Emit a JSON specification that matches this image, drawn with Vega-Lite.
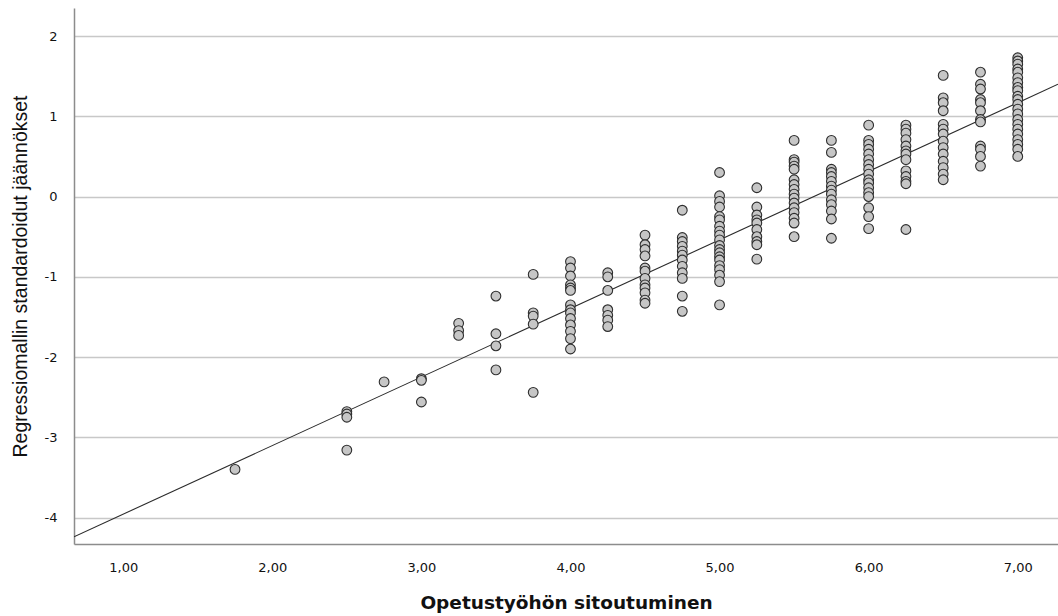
{
  "$schema": "https://vega.github.io/schema/vega-lite/v6.json",
  "width": 984,
  "height": 536,
  "autosize": {"type": "none"},
  "padding": {"left": 74, "top": 8, "right": 0, "bottom": 72},
  "background": "white",
  "config": {
    "view": {"stroke": null},
    "font": "Liberation Sans",
    "axis": {"labelFont": "Liberation Sans", "titleFont": "Liberation Sans"}
  },
  "datasets": {
    "pts": [
      {"x": 1.75, "y": -3.40},
      {"x": 2.5, "y": -2.68}, {"x": 2.5, "y": -2.71}, {"x": 2.5, "y": -2.75}, {"x": 2.5, "y": -3.16},
      {"x": 2.75, "y": -2.31},
      {"x": 3.0, "y": -2.27}, {"x": 3.0, "y": -2.29}, {"x": 3.0, "y": -2.56},
      {"x": 3.25, "y": -1.58}, {"x": 3.25, "y": -1.67}, {"x": 3.25, "y": -1.73},
      {"x": 3.5, "y": -1.24}, {"x": 3.5, "y": -1.71}, {"x": 3.5, "y": -1.86}, {"x": 3.5, "y": -2.16},
      {"x": 3.75, "y": -0.97}, {"x": 3.75, "y": -1.45}, {"x": 3.75, "y": -1.49}, {"x": 3.75, "y": -1.59}, {"x": 3.75, "y": -2.44},
      {"x": 4.0, "y": -0.81}, {"x": 4.0, "y": -0.89}, {"x": 4.0, "y": -0.99}, {"x": 4.0, "y": -1.10}, {"x": 4.0, "y": -1.14}, {"x": 4.0, "y": -1.17}, {"x": 4.0, "y": -1.35}, {"x": 4.0, "y": -1.41}, {"x": 4.0, "y": -1.45}, {"x": 4.0, "y": -1.52}, {"x": 4.0, "y": -1.60}, {"x": 4.0, "y": -1.68}, {"x": 4.0, "y": -1.77}, {"x": 4.0, "y": -1.90},
      {"x": 4.25, "y": -0.95}, {"x": 4.25, "y": -1.00}, {"x": 4.25, "y": -1.17}, {"x": 4.25, "y": -1.41}, {"x": 4.25, "y": -1.48}, {"x": 4.25, "y": -1.54}, {"x": 4.25, "y": -1.62},
      {"x": 4.5, "y": -0.48}, {"x": 4.5, "y": -0.60}, {"x": 4.5, "y": -0.66}, {"x": 4.5, "y": -0.74}, {"x": 4.5, "y": -0.89}, {"x": 4.5, "y": -0.93}, {"x": 4.5, "y": -1.02}, {"x": 4.5, "y": -1.10}, {"x": 4.5, "y": -1.14}, {"x": 4.5, "y": -1.20}, {"x": 4.5, "y": -1.29}, {"x": 4.5, "y": -1.33},
      {"x": 4.75, "y": -0.17}, {"x": 4.75, "y": -0.51}, {"x": 4.75, "y": -0.56}, {"x": 4.75, "y": -0.62}, {"x": 4.75, "y": -0.68}, {"x": 4.75, "y": -0.73}, {"x": 4.75, "y": -0.79}, {"x": 4.75, "y": -0.87}, {"x": 4.75, "y": -0.95}, {"x": 4.75, "y": -1.02}, {"x": 4.75, "y": -1.24}, {"x": 4.75, "y": -1.43},
      {"x": 5.0, "y": 0.30}, {"x": 5.0, "y": 0.01}, {"x": 5.0, "y": -0.06}, {"x": 5.0, "y": -0.13}, {"x": 5.0, "y": -0.25}, {"x": 5.0, "y": -0.29}, {"x": 5.0, "y": -0.37}, {"x": 5.0, "y": -0.43}, {"x": 5.0, "y": -0.48}, {"x": 5.0, "y": -0.54}, {"x": 5.0, "y": -0.61}, {"x": 5.0, "y": -0.66}, {"x": 5.0, "y": -0.70}, {"x": 5.0, "y": -0.75}, {"x": 5.0, "y": -0.79}, {"x": 5.0, "y": -0.86}, {"x": 5.0, "y": -0.91}, {"x": 5.0, "y": -0.98}, {"x": 5.0, "y": -1.06}, {"x": 5.0, "y": -1.35},
      {"x": 5.25, "y": 0.11}, {"x": 5.25, "y": -0.13}, {"x": 5.25, "y": -0.23}, {"x": 5.25, "y": -0.29}, {"x": 5.25, "y": -0.33}, {"x": 5.25, "y": -0.41}, {"x": 5.25, "y": -0.50}, {"x": 5.25, "y": -0.56}, {"x": 5.25, "y": -0.60}, {"x": 5.25, "y": -0.78},
      {"x": 5.5, "y": 0.70}, {"x": 5.5, "y": 0.46}, {"x": 5.5, "y": 0.43}, {"x": 5.5, "y": 0.38}, {"x": 5.5, "y": 0.34}, {"x": 5.5, "y": 0.21}, {"x": 5.5, "y": 0.15}, {"x": 5.5, "y": 0.09}, {"x": 5.5, "y": 0.03}, {"x": 5.5, "y": -0.02}, {"x": 5.5, "y": -0.08}, {"x": 5.5, "y": -0.14}, {"x": 5.5, "y": -0.20}, {"x": 5.5, "y": -0.27}, {"x": 5.5, "y": -0.33}, {"x": 5.5, "y": -0.50},
      {"x": 5.75, "y": 0.70}, {"x": 5.75, "y": 0.55}, {"x": 5.75, "y": 0.34}, {"x": 5.75, "y": 0.30}, {"x": 5.75, "y": 0.25}, {"x": 5.75, "y": 0.19}, {"x": 5.75, "y": 0.13}, {"x": 5.75, "y": 0.08}, {"x": 5.75, "y": 0.03}, {"x": 5.75, "y": -0.04}, {"x": 5.75, "y": -0.10}, {"x": 5.75, "y": -0.18}, {"x": 5.75, "y": -0.28}, {"x": 5.75, "y": -0.52},
      {"x": 6.0, "y": 0.89}, {"x": 6.0, "y": 0.70}, {"x": 6.0, "y": 0.65}, {"x": 6.0, "y": 0.59}, {"x": 6.0, "y": 0.53}, {"x": 6.0, "y": 0.46}, {"x": 6.0, "y": 0.40}, {"x": 6.0, "y": 0.34}, {"x": 6.0, "y": 0.28}, {"x": 6.0, "y": 0.21}, {"x": 6.0, "y": 0.17}, {"x": 6.0, "y": 0.11}, {"x": 6.0, "y": 0.05}, {"x": 6.0, "y": 0.00}, {"x": 6.0, "y": -0.14}, {"x": 6.0, "y": -0.25}, {"x": 6.0, "y": -0.40},
      {"x": 6.25, "y": 0.89}, {"x": 6.25, "y": 0.84}, {"x": 6.25, "y": 0.79}, {"x": 6.25, "y": 0.71}, {"x": 6.25, "y": 0.63}, {"x": 6.25, "y": 0.57}, {"x": 6.25, "y": 0.53}, {"x": 6.25, "y": 0.46}, {"x": 6.25, "y": 0.32}, {"x": 6.25, "y": 0.25}, {"x": 6.25, "y": 0.19}, {"x": 6.25, "y": 0.16}, {"x": 6.25, "y": -0.41},
      {"x": 6.5, "y": 1.51}, {"x": 6.5, "y": 1.23}, {"x": 6.5, "y": 1.17}, {"x": 6.5, "y": 1.07}, {"x": 6.5, "y": 0.90}, {"x": 6.5, "y": 0.84}, {"x": 6.5, "y": 0.78}, {"x": 6.5, "y": 0.69}, {"x": 6.5, "y": 0.61}, {"x": 6.5, "y": 0.53}, {"x": 6.5, "y": 0.44}, {"x": 6.5, "y": 0.36}, {"x": 6.5, "y": 0.28}, {"x": 6.5, "y": 0.21},
      {"x": 6.75, "y": 1.55}, {"x": 6.75, "y": 1.40}, {"x": 6.75, "y": 1.34}, {"x": 6.75, "y": 1.21}, {"x": 6.75, "y": 1.17}, {"x": 6.75, "y": 1.07}, {"x": 6.75, "y": 0.96}, {"x": 6.75, "y": 0.93}, {"x": 6.75, "y": 0.63}, {"x": 6.75, "y": 0.59}, {"x": 6.75, "y": 0.50}, {"x": 6.75, "y": 0.38},
      {"x": 7.0, "y": 1.73}, {"x": 7.0, "y": 1.69}, {"x": 7.0, "y": 1.65}, {"x": 7.0, "y": 1.59}, {"x": 7.0, "y": 1.55}, {"x": 7.0, "y": 1.48}, {"x": 7.0, "y": 1.42}, {"x": 7.0, "y": 1.36}, {"x": 7.0, "y": 1.32}, {"x": 7.0, "y": 1.25}, {"x": 7.0, "y": 1.21}, {"x": 7.0, "y": 1.15}, {"x": 7.0, "y": 1.09}, {"x": 7.0, "y": 1.03}, {"x": 7.0, "y": 0.96}, {"x": 7.0, "y": 0.90}, {"x": 7.0, "y": 0.84}, {"x": 7.0, "y": 0.78}, {"x": 7.0, "y": 0.71}, {"x": 7.0, "y": 0.65}, {"x": 7.0, "y": 0.59}, {"x": 7.0, "y": 0.50}
    ],
    "fit": [
      {"x": 0.67, "y": -4.24},
      {"x": 7.27, "y": 1.40}
    ]
  },
  "layer": [
    {
      "data": {"name": "fit"},
      "mark": {"type": "line", "color": "#2b2b2b", "strokeWidth": 1.1, "clip": true},
      "encoding": {
        "x": {
          "field": "x", "type": "quantitative",
          "scale": {"domain": [0.67, 7.27], "nice": false, "zero": false},
          "axis": {
            "title": "Opetustyöhön sitoutuminen",
            "values": [1, 2, 3, 4, 5, 6, 7],
            "labelExpr": "replace(format(datum.value, '.2f'), '.', ',')",
            "grid": false,
            "ticks": false,
            "domainColor": "#8c8c8c",
            "domainWidth": 1.5,
            "labelFont": "DejaVu Sans",
            "labelFontSize": 13,
            "labelColor": "#111111",
            "labelPadding": 17,
            "titleFont": "DejaVu Sans",
            "titleFontSize": 18.5,
            "titleFontWeight": "bold",
            "titleColor": "#111111",
            "titlePadding": 19
          }
        },
        "y": {
          "field": "y", "type": "quantitative",
          "scale": {"domain": [-4.33, 2.35], "nice": false, "zero": false},
          "axis": {
            "title": "Regressiomallin standardoidut jäännökset",
            "values": [-4, -3, -2, -1, 0, 1, 2],
            "labelExpr": "toString(datum.value)",
            "grid": true,
            "gridColor": "#c8c8c8",
            "gridWidth": 1.5,
            "ticks": false,
            "domainColor": "#8c8c8c",
            "domainWidth": 1.5,
            "labelFont": "DejaVu Sans",
            "labelFontSize": 13,
            "labelColor": "#111111",
            "labelPadding": 17,
            "titleFontSize": 19.5,
            "titleFontWeight": "normal",
            "titleColor": "#111111",
            "titlePadding": 14
          }
        }
      }
    },
    {
      "data": {"name": "pts"},
      "mark": {"type": "circle", "fill": "#c6c6c6", "stroke": "#2e2e2e", "strokeWidth": 1.1, "size": 95, "opacity": 1, "fillOpacity": 1},
      "encoding": {
        "x": {"field": "x", "type": "quantitative"},
        "y": {"field": "y", "type": "quantitative"}
      }
    }
  ]
}
